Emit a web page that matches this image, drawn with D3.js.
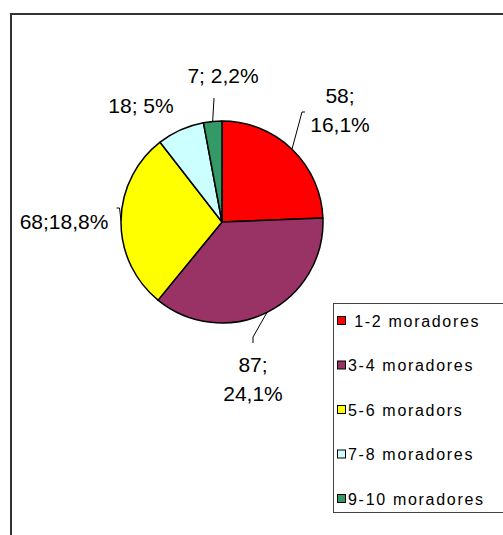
<!DOCTYPE html>
<html>
<head>
<meta charset="utf-8">
<script src="https://cdn.jsdelivr.net/npm/d3@7"></script>
<style>
  body { margin: 0; background: #fff; }
  svg { display: block; font-family: "Liberation Sans", Arial, sans-serif; }
</style>
</head>
<body>
<div id="chart"></div>
<script>
// data
const categories = [" 1-2 moradores", "3-4 moradores", "5-6 moradors", "7-8 moradores", "9-10 moradores"];
const values = [58, 87, 68, 18, 7];
const labelLines = [["58;", "16,1%"], ["87;", "24,1%"], ["68;18,8%"], ["18; 5%"], ["7; 2,2%"]];
const colors = ["#ff0000", "#993366", "#ffff00", "#ccffff", "#339966"];

// layout: label anchor (center x, first baseline) relative to the pie center
const labelOffsets = [[118, -119], [31, 150], [-158, 7], [-81, -109], [1, -139]];
// leader line bends after the slice edge point, relative to pie center
const leaderBends = [
    [[80, -110], [83, -110]],
    [[31, 115], [31, 121]],
    [[-102.5, -14], [-105.5, -14]],
    null,
    [[-8, -124]]
];

const width = 503, height = 535;
const cx = 222, cy = 222, radius = 101;

const svg = d3.select("#chart").append("svg")
    .attr("width", width)
    .attr("height", height);

// outer frame
svg.append("rect")
    .attr("x", 11).attr("y", 14)
    .attr("width", 600).attr("height", 600)
    .attr("fill", "none")
    .attr("stroke", "#333")
    .attr("stroke-width", 2);

let pie = d3.pie().sort(null).value(d => d);
let arcs = pie(values);
let arc = d3.arc().innerRadius(0).outerRadius(radius);
let edgeArc = d3.arc().innerRadius(radius).outerRadius(radius);

let g = svg.append("g").attr("transform", `translate(${cx},${cy})`);

g.selectAll("path.slice").data(arcs).enter().append("path")
    .attr("class", "slice")
    .attr("d", arc)
    .attr("fill", (d, i) => colors[i])
    .attr("stroke", "#000")
    .attr("stroke-width", 1.5)
    .attr("stroke-linejoin", "round");

// leader lines
let line = d3.line();
arcs.forEach(function(d, i){
    if(!leaderBends[i]) return;
    let pts = [edgeArc.centroid(d)].concat(leaderBends[i]);
    g.append("path")
        .attr("d", line(pts))
        .attr("fill", "none")
        .attr("stroke", "#000")
        .attr("stroke-width", 1);
});

// data labels
arcs.forEach(function(d, i){
    let t = g.append("text")
        .attr("x", labelOffsets[i][0])
        .attr("y", labelOffsets[i][1])
        .attr("text-anchor", "middle")
        .attr("font-size", 21)
        .attr("fill", "#000");
    labelLines[i].forEach(function(s, j){
        t.append("tspan")
            .attr("x", labelOffsets[i][0])
            .attr("dy", j === 0 ? 0 : 29)
            .text(s);
    });
});

// legend
let legend = svg.append("g").attr("transform", "translate(333,303)");
legend.append("rect")
    .attr("x", 0.5).attr("y", 0.5)
    .attr("width", 200).attr("height", 209)
    .attr("fill", "#fff")
    .attr("stroke", "#444")
    .attr("stroke-width", 1);

let rowY = d3.scalePoint().domain(categories).range([18, 196]);

let items = legend.selectAll("g.item").data(categories).enter().append("g")
    .attr("class", "item")
    .attr("transform", d => `translate(0,${rowY(d)})`);

items.append("rect")
    .attr("x", 4.5).attr("y", -4.5)
    .attr("width", 8).attr("height", 8)
    .attr("fill", (d, i) => colors[i])
    .attr("stroke", "#000")
    .attr("stroke-width", 1);

items.append("text")
    .attr("x", 15)
    .attr("y", 5.5)
    .attr("font-size", 16)
    .attr("letter-spacing", 1.7)
    .style("white-space", "pre")
    .attr("fill", "#000")
    .text(d => d);
</script>
</body>
</html>
